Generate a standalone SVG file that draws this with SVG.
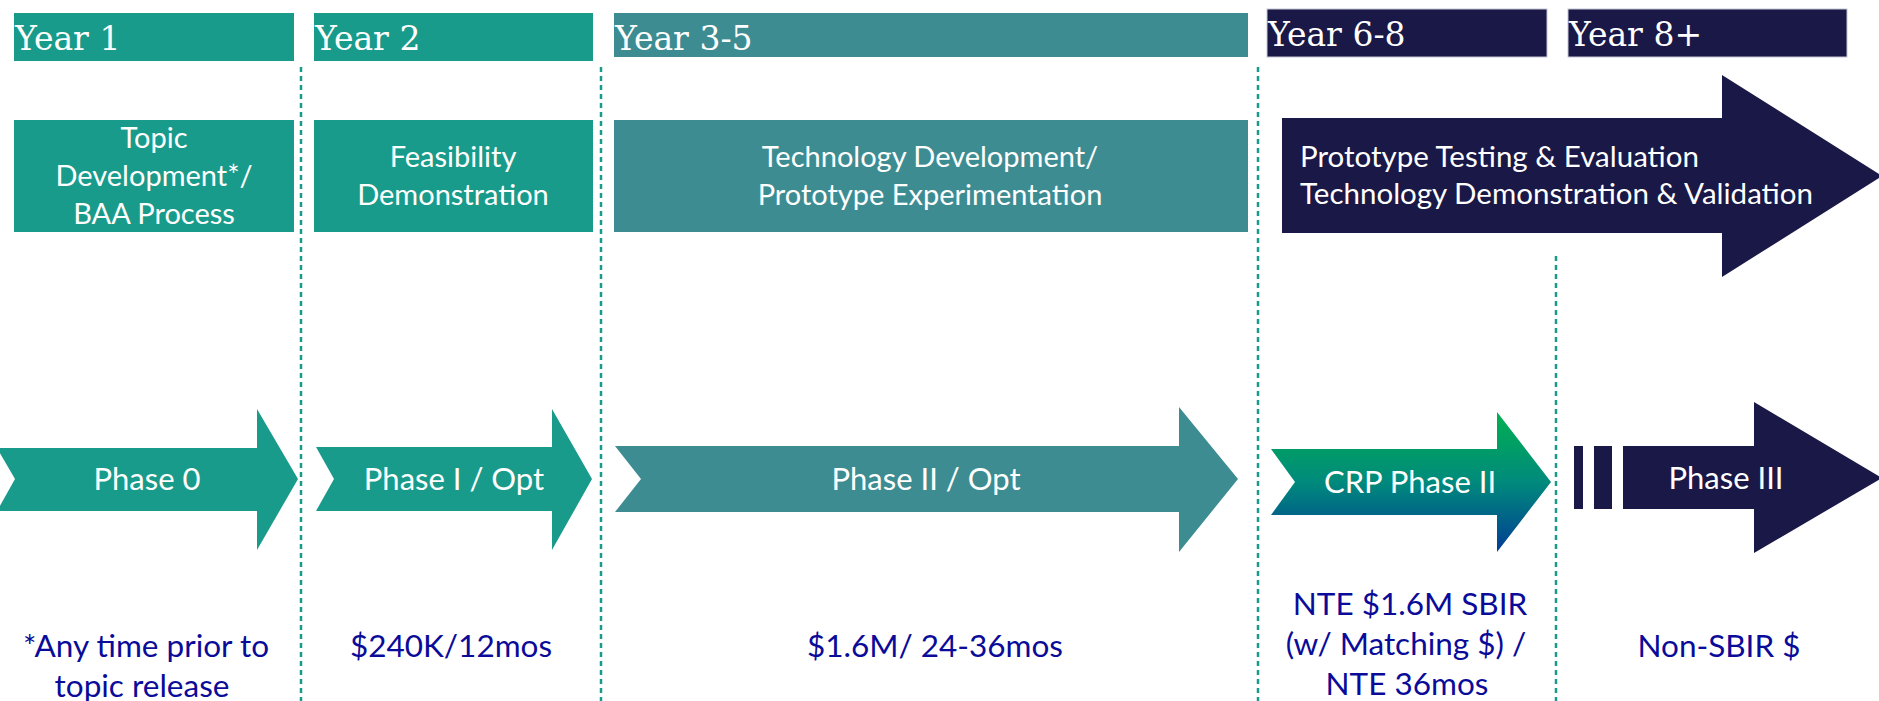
<svg xmlns="http://www.w3.org/2000/svg" width="1879" height="701" viewBox="0 0 1879 701">
<defs>
<linearGradient id="crpGrad" x1="0" y1="0" x2="0" y2="1">
<stop offset="0" stop-color="#00b050"/>
<stop offset="0.5" stop-color="#008a7c"/>
<stop offset="1" stop-color="#003d94"/>
</linearGradient>
<style>
.teal{fill:#199b8b}
.steel{fill:#3d8c92}
.navy{fill:#1a1846}
.navyb{fill:#1a1846;stroke:#c5c5d3;stroke-width:1}
.yr{font-family:"DejaVu Serif","Liberation Serif",serif;font-size:33px;fill:#ffffff}
.wt{font-family:Lato,"Open Sans",sans-serif;font-size:29px;fill:#ffffff}
.big{font-size:29.5px}
.ph{font-family:Lato,"Open Sans",sans-serif;font-size:31px;fill:#ffffff;text-anchor:middle}
.bl{font-family:Lato,"Open Sans",sans-serif;font-size:31.5px;fill:#0b0b99;text-anchor:middle}
.mid{text-anchor:middle}
.div{stroke:#1a9a8c;stroke-width:2.5;stroke-dasharray:5 4;fill:none}
</style>
</defs>
<rect width="1879" height="701" fill="#ffffff"/>

<g id="year-1"><rect class="teal" x="14" y="13" width="280" height="48"/><text class="yr" x="15" y="50">Year 1</text></g>
<g id="year-2"><rect class="teal" x="314" y="13" width="279" height="48"/><text class="yr" x="315" y="50">Year 2</text></g>
<g id="year-3-5"><rect class="steel" x="614" y="13" width="634" height="44"/><text class="yr" x="615" y="50">Year 3-5</text></g>
<g id="year-6-8"><rect class="navyb" x="1267" y="9" width="280" height="48"/><text class="yr" x="1268" y="46">Year 6-8</text></g>
<g id="year-8plus"><rect class="navyb" x="1568" y="9" width="279" height="48"/><text class="yr" x="1569" y="46">Year 8+</text></g>

<g id="topic-development"><rect class="teal" x="14" y="120" width="280" height="112"/>
<text class="wt mid" x="154" y="148">Topic</text>
<text class="wt mid" x="154" y="186">Development*/</text>
<text class="wt mid" x="154" y="224">BAA Process</text></g>

<g id="feasibility"><rect class="teal" x="314" y="120" width="279" height="112"/>
<text class="wt mid" x="453" y="167">Feasibility</text>
<text class="wt mid" x="453" y="205">Demonstration</text></g>

<g id="technology-development"><rect class="steel" x="614" y="120" width="634" height="112"/>
<text class="wt mid" x="930" y="167">Technology Development/</text>
<text class="wt mid" x="930" y="205">Prototype Experimentation</text></g>

<g id="prototype-testing"><polygon class="navy" points="1282,118 1722,118 1722,75 1882,176 1722,277 1722,233 1282,233"/>
<text class="wt big" x="1300" y="167">Prototype Testing &amp; Evaluation</text>
<text class="wt big" x="1300" y="204">Technology Demonstration &amp; Validation</text></g>

<g id="dividers">
<line class="div" x1="301" y1="67" x2="301" y2="701"/>
<line class="div" x1="601" y1="67" x2="601" y2="701"/>
<line class="div" x1="1258" y1="67" x2="1258" y2="701"/>
<line class="div" x1="1556" y1="256" x2="1556" y2="701"/>
</g>

<g id="phase-0"><polygon class="teal" points="-3,448 257,448 257,409 298,479 257,550 257,511 -3,511 15,479"/>
<text class="ph" x="147" y="490">Phase 0</text></g>

<g id="phase-1"><polygon class="teal" points="316,447 552,447 552,409 592,479 552,550 552,511 316,511 334,479"/>
<text class="ph" x="454" y="490">Phase I / Opt</text></g>

<g id="phase-2"><polygon class="steel" points="615,446 1179,446 1179,407 1238,479 1179,552 1179,512 615,512 641,479"/>
<text class="ph" x="926" y="490">Phase II / Opt</text></g>

<g id="crp-phase-2"><polygon fill="url(#crpGrad)" points="1271,449 1497,449 1497,412 1551,482 1497,552 1497,515 1271,515 1295,482"/>
<text class="ph" x="1410" y="493">CRP Phase II</text></g>

<g id="phase-3">
<rect class="navy" x="1574" y="446" width="9" height="63"/>
<rect class="navy" x="1594" y="446" width="18" height="63"/>
<polygon class="navy" points="1623,446 1754,446 1754,402 1882,478 1754,553 1754,509 1623,509"/>
<text class="ph" x="1726" y="489">Phase III</text></g>

<g id="notes">
<text class="bl" x="146" y="657">*Any time prior to</text>
<text class="bl" x="142" y="697">topic release</text>
<text class="bl" x="451" y="657">$240K/12mos</text>
<text class="bl" x="935" y="657">$1.6M/ 24-36mos</text>
<text class="bl" x="1410" y="615">NTE $1.6M SBIR</text>
<text class="bl" x="1406" y="655">(w/ Matching $) /</text>
<text class="bl" x="1407" y="695">NTE 36mos</text>
<text class="bl" x="1719" y="657">Non-SBIR $</text>
</g>
</svg>
